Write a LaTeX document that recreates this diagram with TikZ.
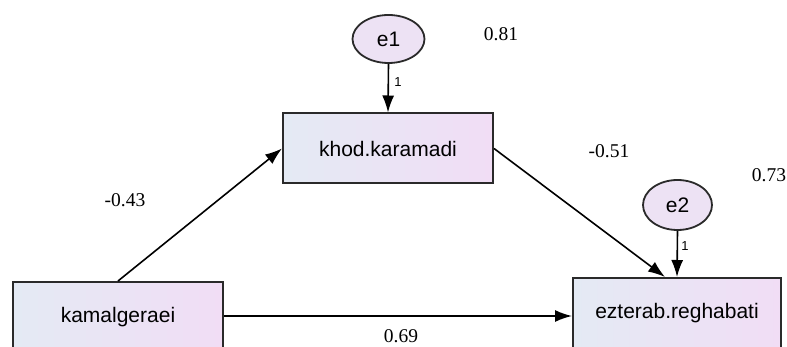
\documentclass[tikz,border=0pt]{standalone}
\usepackage{fontspec}
\setmainfont{Liberation Serif}
\setsansfont{Liberation Sans}
\usetikzlibrary{shapes.geometric,arrows.meta,calc}
\definecolor{boxleft}{HTML}{E4EAF4}
\definecolor{boxright}{HTML}{F1DDF5}
\definecolor{ellfill}{HTML}{EDE2F4}
\definecolor{edge}{HTML}{2A2A2A}
\begin{document}
\begin{tikzpicture}[x=1pt,y=-1pt,
  obs/.style={draw=edge,line width=2pt,rectangle,left color=boxleft,right color=boxright,
    minimum width=210pt,minimum height=70pt,inner sep=0pt,
    font=\sffamily\fontsize{21}{25}\selectfont},
  err/.style={draw=edge,line width=1.8pt,ellipse,fill=ellfill,inner sep=0pt,
    font=\sffamily\fontsize{21}{25}\selectfont},
  path/.style={draw=black,line width=1.6pt,-{Latex[length=17pt,width=12pt]}},
  coef/.style={font=\rmfamily\fontsize{19.5}{22}\selectfont,inner sep=0pt},
  one/.style={font=\sffamily\fontsize{13}{15}\selectfont,inner sep=0pt}]
\useasboundingbox (0,0) rectangle (787,347);
\clip (0,0) rectangle (787,347);
\node[err,minimum width=72pt,minimum height=48pt] (e1) at (388.5,39) {e1};
\node[obs] (khod) at (388,148.5) {khod.karamadi};
\node[err,minimum width=69pt,minimum height=50pt] (e2) at (677.5,205) {e2};
\node[obs,minimum width=208pt] (ezt) at (677,313) {ezterab.reghabati};
\node[obs] (kam) at (118,317) {kamalgeraei};
\draw[path] (e1.south) -- (khod.north);
\draw[path] (e2.south) -- (ezt.north);
\draw[path] (kam.north) -- (khod.west);
\draw[path] (khod.east) -- ([xshift=-12pt]ezt.north);
\draw[path] ([yshift=1pt]kam.east) -- ([yshift=1pt]kam.east -| ezt.west);
\node[one] (o1) at (398,82) {1};
\node[one] (o2) at (685,246) {1};
\node[coef] (c81) at (501,34) {0.81};
\node[coef] (c51) at (609,151) {-0.51};
\node[coef] (c73) at (769,175) {0.73};
\node[coef] (c43) at (125,200) {-0.43};
\node[coef] (c69) at (401,336) {0.69};
\end{tikzpicture}
\end{document}
